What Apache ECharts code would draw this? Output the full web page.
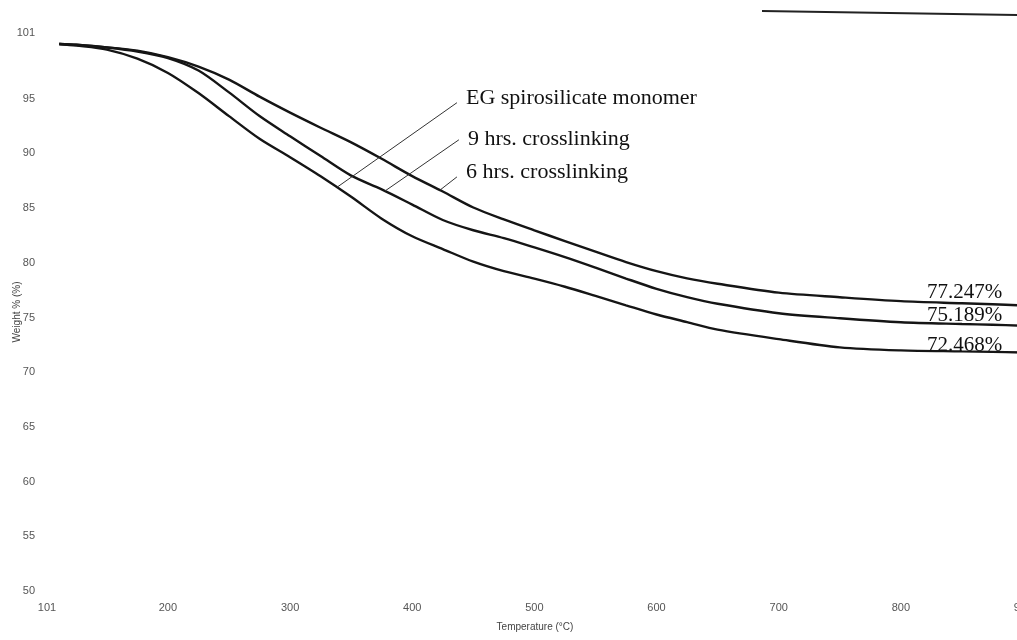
<!DOCTYPE html>
<html>
<head>
<meta charset="utf-8">
<style>
  body { margin: 0; overflow: hidden; background: #fff; }
</style>
</head>
<body>
<div id="chart" style="width:1030px;height:640px"></div>
<script src="https://cdn.jsdelivr.net/npm/echarts@6.0.0/dist/echarts.min.js"></script>
<script type="text/javascript">

var myChart = echarts.init(document.querySelector('#chart'));

let temps = [111, 125, 150, 175, 200, 225, 250, 275, 300, 325, 350, 375, 400, 425, 450,
             475, 500, 525, 550, 575, 600, 625, 650, 700, 750, 800, 850, 875, 900];

// weight % for each sample
let monomer = [100.0, 99.85, 99.48, 98.65, 97.35, 95.51, 93.4, 91.33, 89.65, 87.91, 86.03, 84.03, 82.42, 81.25, 80.1,
               79.23, 78.55, 77.81, 76.97, 76.11, 75.27, 74.58, 73.89, 73.02, 72.27, 71.99, 71.9, 71.86, 71.8];
let hrs9 = [100.0, 99.92, 99.67, 99.31, 98.71, 97.57, 95.57, 93.41, 91.56, 89.75, 87.96, 86.71, 85.32, 83.91, 82.97,
            82.25, 81.4, 80.51, 79.55, 78.56, 77.62, 76.86, 76.25, 75.39, 74.93, 74.56, 74.4, 74.34, 74.25];
let hrs6 = [100.0, 99.93, 99.69, 99.38, 98.79, 97.93, 96.74, 95.18, 93.72, 92.34, 91.0, 89.5, 87.92, 86.51, 85.05,
            83.96, 82.96, 81.98, 81.01, 80.06, 79.23, 78.57, 78.08, 77.27, 76.85, 76.49, 76.3, 76.21, 76.1];

let seriesNames = ['EG spirosilicate monomer', '9 hrs. crosslinking', '6 hrs. crosslinking'];
let residues = [72.468, 75.189, 77.247];

let xTicks = [101, 200, 300, 400, 500, 600, 700, 800, 900];
let yTicks = [50, 55, 60, 65, 70, 75, 80, 85, 90, 95, 101];

var serif = 'Liberation Serif';

function curve(name, vals, residue, leaderFrom, leaderTo, dy) {
    return {
        name: name,
        type: 'line',
        symbol: 'none',
        smooth: 0.3,
        data: temps.map(function (t, i) { return [t, vals[i]]; }),
        lineStyle: { color: '#151515', width: 2.4 },
        markLine: {
            silent: true,
            symbol: ['none', 'none'],
            label: { show: false },
            lineStyle: { color: '#333', width: 1, type: 'solid' },
            data: [[{ coord: leaderFrom }, { coord: leaderTo }]]
        },
        markPoint: {
            silent: true,
            symbol: 'circle',
            symbolSize: 0,
            data: [
                {
                    coord: leaderFrom,
                    label: {
                        show: true, position: 'right', distance: 9, offset: [0, dy],
                        formatter: name, color: '#111', fontFamily: serif, fontSize: 22
                    }
                },
                {
                    coord: [883, residue],
                    label: {
                        show: true, position: 'left', distance: 0,
                        formatter: residue.toFixed(3) + '%', color: '#111', fontFamily: serif, fontSize: 21
                    }
                }
            ]
        }
    };
}

let option = {
    animation: false,
    grid: { left: 47, right: 7, top: 33, bottom: 49, outerBoundsMode: 'none' },
    xAxis: {
        type: 'value',
        min: 101,
        max: 900,
        name: 'Temperature (°C)',
        nameLocation: 'middle',
        nameGap: 31,
        nameMoveOverlap: false,
        nameTextStyle: { color: '#444', fontSize: 10, fontFamily: 'Liberation Sans' },
        axisLine: { show: false },
        axisTick: { show: false },
        splitLine: { show: false },
        axisLabel: { customValues: xTicks, color: '#555', fontSize: 11, margin: 11, fontFamily: 'Liberation Sans' }
    },
    yAxis: {
        type: 'value',
        min: 50,
        max: 101,
        name: 'Weight % (%)',
        nameLocation: 'middle',
        nameRotate: 90,
        nameGap: 25,
        nameMoveOverlap: false,
        nameTextStyle: { color: '#444', fontSize: 10, fontFamily: 'Liberation Sans' },
        axisLine: { show: false },
        axisTick: { show: false },
        splitLine: { show: false },
        axisLabel: { customValues: yTicks, color: '#555', fontSize: 11, margin: 12, fontFamily: 'Liberation Sans' }
    },
    series: [
        curve(seriesNames[0], monomer, residues[0], [436.6, 94.63], [338.4, 86.9], -4),
        curve(seriesNames[1], hrs9, residues[1], [438.2, 91.24], [377.7, 86.56], -1),
        curve(seriesNames[2], hrs6, residues[2], [436.6, 87.85], [422.7, 86.64], -5)
    ],
    graphic: [
        // scan edge at the top right
        { type: 'line', shape: { x1: 762, y1: 11, x2: 1017, y2: 15 }, style: { stroke: '#222', lineWidth: 2 } }
    ]
};
myChart.setOption(option);
</script>
</body>
</html>
